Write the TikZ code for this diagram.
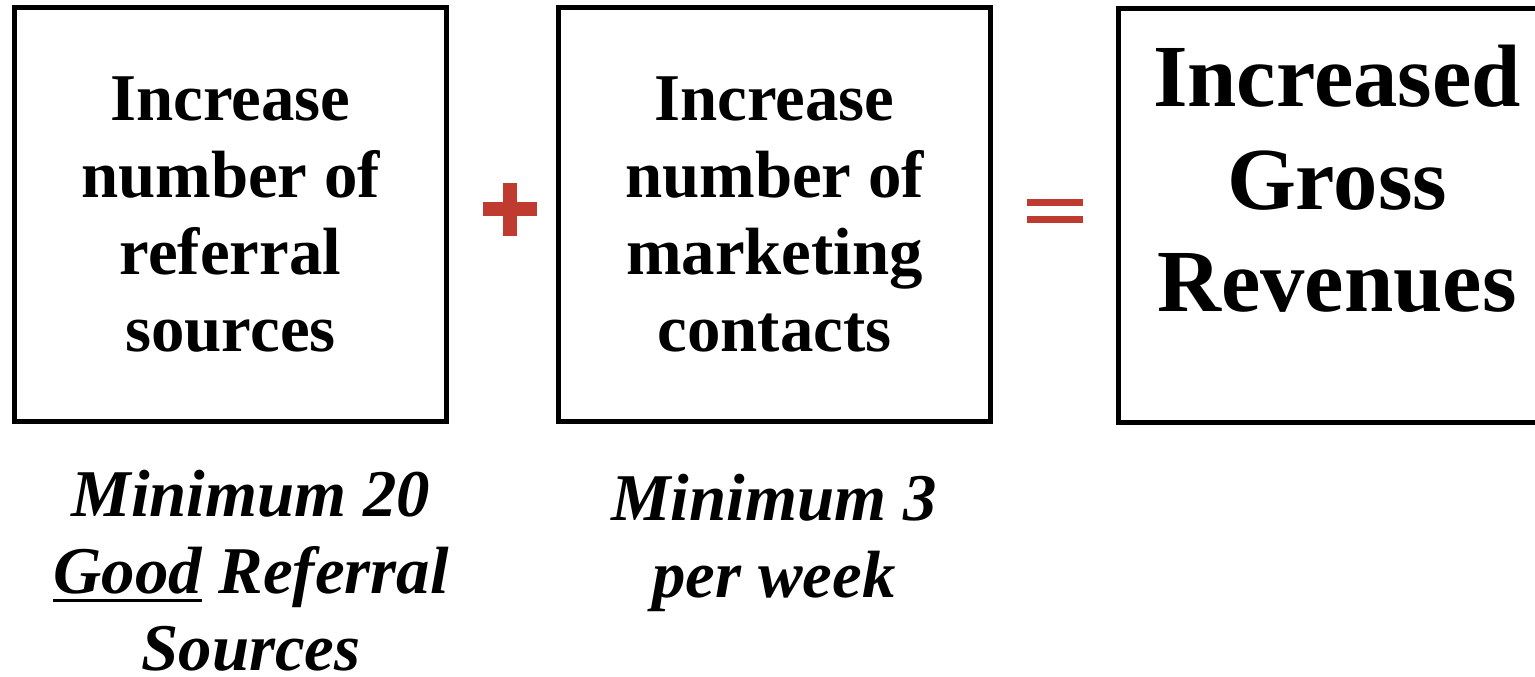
\documentclass[tikz,border=0pt]{standalone}
\usepackage{fontspec}
\setmainfont{Liberation Serif}
\definecolor{accent}{HTML}{BF3B30}
\newcommand{\thickul}[1]{\leavevmode\setbox0=\hbox{#1}\rlap{\rule[-2.3pt]{\wd0}{0.9pt}}\box0\relax}
\tikzset{
  box/.style={draw=black, line width=1.4pt, fill=white, minimum width=4.32cm, minimum height=4.13cm, inner sep=0pt},
  boxtext/.style={align=center, font=\fontsize{19}{21.9}\selectfont\bfseries},
  bigtext/.style={align=center, font=\fontsize{25.2}{29.2}\selectfont\bfseries},
  note/.style={align=center, font=\fontsize{19}{21.9}\selectfont\bfseries\itshape},
  sign/.style={fill=accent, draw=none}
}
\begin{document}
\begin{tikzpicture}[x=0.01cm, y=-0.01cm]
\useasboundingbox (0,0) rectangle (1535,677);
\clip (0,0) rectangle (1535,677);
\node[box, boxtext] (b1) at (230.5,214.5) {Increase\\number of\\referral\\sources};
\node[box, boxtext] (b2) at (774.5,214.5) {Increase\\number of\\marketing\\contacts};
\node[box] (b3) at (1334.5,215.5) {};
\node[bigtext] (t3) at (1337,179) {Increased\\Gross\\Revenues};
\node[note] (n1) at (251,571) {Minimum 20\\\thickul{Good} Referral\\Sources};
\node[note] (n2) at (774,543) {Minimum 3\\per week};
% plus sign
\fill[sign] (503,183) rectangle (517,236);
\fill[sign] (483,202) rectangle (537,216);
% equals sign
\fill[sign] (1027,199) rectangle (1083,206);
\fill[sign] (1027,216) rectangle (1083,223);
\end{tikzpicture}
\end{document}
